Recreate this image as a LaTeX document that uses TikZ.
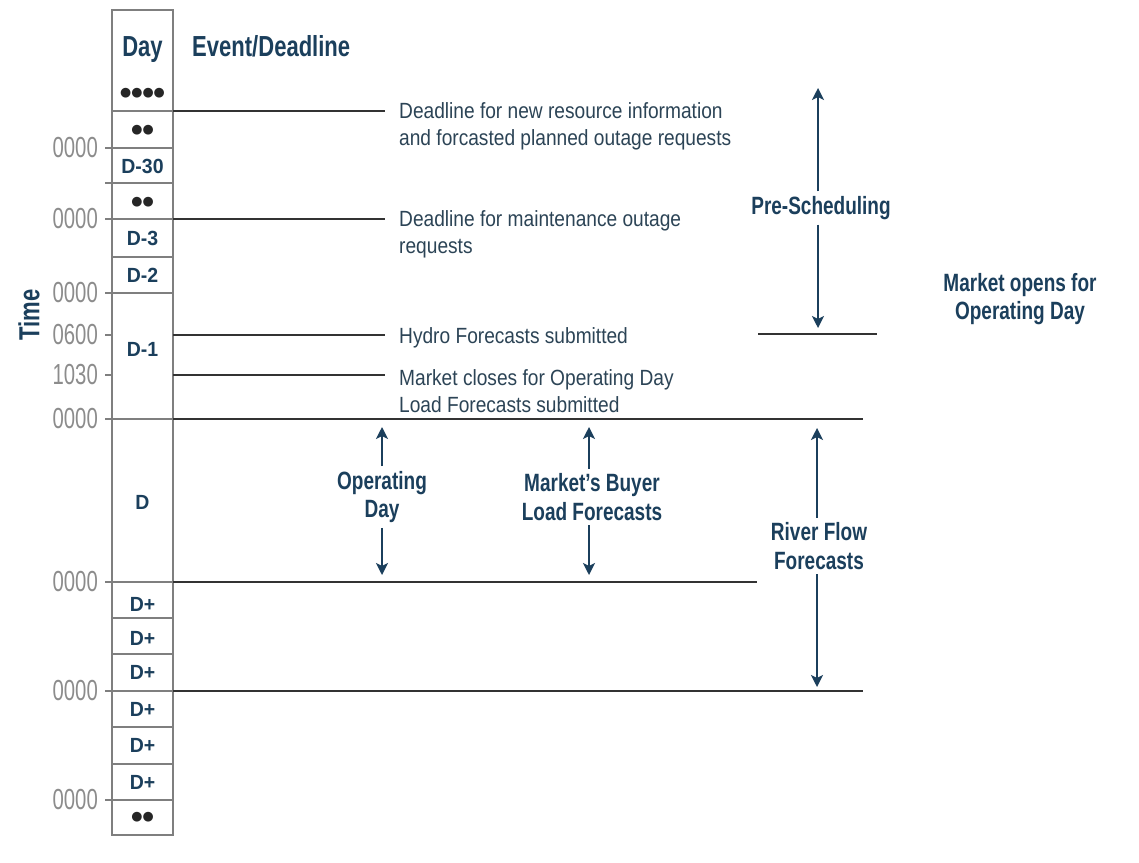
\documentclass[tikz,border=0pt]{standalone}
\usepackage{fontspec}
\usetikzlibrary{arrows.meta}
\newfontfamily\condb[FakeStretch=0.76]{Liberation Sans}
\newfontfamily\cellf[FakeStretch=0.95]{Liberation Sans}
\newfontfamily\bodyf[FakeStretch=0.87]{Liberation Sans}
\newfontfamily\timef[FakeStretch=0.7]{Liberation Sans}
\newfontfamily\dotf{DejaVu Sans}
\definecolor{navy}{HTML}{1B3F5C}
\definecolor{bodyc}{HTML}{2C4456}
\definecolor{colg}{HTML}{7F7F7F}
\definecolor{lineg}{HTML}{333333}
\definecolor{timec}{HTML}{8C8C8C}
\begin{document}
\begin{tikzpicture}[x=1pt,y=-1pt,
 title/.style={font=\condb\bfseries\fontsize{29}{30}\selectfont, text=navy, inner sep=0pt},
 cell/.style={font=\cellf\bfseries\fontsize{20.5}{22}\selectfont, text=navy, inner sep=0pt},
 dots/.style={font=\dotf\fontsize{12.8}{13}\selectfont, text=black!85, inner sep=0pt},
 ev/.style={font=\bodyf\fontsize{22}{27}\selectfont, text=bodyc, align=left, anchor=base west, inner sep=0pt},
 tm/.style={font=\timef\fontsize{29}{30}\selectfont, text=timec, anchor=east, inner sep=0pt},
 lbl/.style={font=\condb\bfseries\fontsize{25}{28.5}\selectfont, text=navy, align=center, inner sep=0pt, outer sep=5pt},
 colline/.style={colg, line width=2pt},
 evline/.style={lineg, line width=2pt},
 arr/.style={navy, line width=2pt, -{Stealth[length=12pt,width=12pt,inset=3pt]}},
]
\useasboundingbox (0,0) rectangle (1139,862);
\fill[white] (0,0) rectangle (1139,862);

% ---- day column
\draw[colline] (112,10) rectangle (173,835);
\foreach \y in {111,257,618,654,727,764} \draw[colline] (112,\y) -- (173,\y);
\foreach \y in {148,183,219,293,419,582,691,800} \draw[colline] (105,\y) -- (173,\y);
\foreach \y in {335,375} \draw[colline] (105,\y) -- (112,\y);

% ---- headers
\node[title, anchor=base] (hday) at (142.5,56) {Day};
\node[title, anchor=base west] (hev) at (192,56) {Event/Deadline};
\node[title, rotate=90] (htime) at (29,315) {Time};

% ---- cell labels
\node[dots] (c0) at (142.5,93) {●●●●};
\node[dots] (c1) at (142.5,130) {●●};
\node[cell] (c2) at (142.5,166.5) {D-30};
\node[dots] (c3) at (142.5,202) {●●};
\node[cell] (c4) at (142.5,238) {D-3};
\node[cell] (c5) at (142.5,275.5) {D-2};
\node[cell] (c6) at (142.5,349) {D-1};
\node[cell] (c7) at (142.5,502.5) {D};
\node[cell] (c8) at (142.5,604) {D+};
\node[cell] (c9) at (142.5,638) {D+};
\node[cell] (c10) at (142.5,672) {D+};
\node[cell] (c11) at (142.5,709) {D+};
\node[cell] (c12) at (142.5,745.5) {D+};
\node[cell] (c13) at (142.5,782) {D+};
\node[dots] (c14) at (142.5,817) {●●};

% ---- time labels
\node[tm] (t1) at (98,148) {0000};
\node[tm] (t2) at (98,219) {0000};
\node[tm] (t3) at (98,293) {0000};
\node[tm] (t4) at (98,335) {0600};
\node[tm] (t5) at (98,375) {1030};
\node[tm] (t6) at (98,419) {0000};
\node[tm] (t7) at (98,582) {0000};
\node[tm] (t8) at (98,691) {0000};
\node[tm] (t9) at (98,800) {0000};

% ---- events (base = baseline of last line)
\node[ev] (e1) at (399,145) {Deadline for new resource information\\and forcasted planned outage requests};
\node[ev] (e2) at (399,253.5) {Deadline for maintenance outage\\requests};
\node[ev] (e3) at (399,343) {Hydro Forecasts submitted};
\node[ev] (e4) at (399,412.5) {Market closes for Operating Day\\Load Forecasts submitted};

\coordinate (l1a) at (173,111); \coordinate (l1b) at (385,111);
\coordinate (l2a) at (173,219); \coordinate (l2b) at (385,219);
\coordinate (l3a) at (173,335); \coordinate (l3b) at (385,335);
\coordinate (l4a) at (173,375); \coordinate (l4b) at (385,375);
\coordinate (l5a) at (173,419); \coordinate (l5b) at (863,419);
\coordinate (l6a) at (173,582); \coordinate (l6b) at (757,582);
\coordinate (l7a) at (173,691); \coordinate (l7b) at (863,691);
\coordinate (l8a) at (758,334); \coordinate (l8b) at (877,334);
\foreach \i in {1,...,8} \draw[evline] (l\i a) -- (l\i b);

% ---- period labels and arrows
\node[lbl] (ps) at (821,208) {Pre-Scheduling};
\node[lbl] (mo) at (1020,299) {Market opens for\\Operating Day};
\node[lbl] (od) at (382,497) {Operating\\Day};
\node[lbl] (mb) at (592,497) {Market’s Buyer\\Load Forecasts};
\node[lbl] (rf) at (819,546) {River Flow\\Forecasts};

\coordinate (psT) at (818,88);  \coordinate (psB) at (818,328);
\coordinate (odT) at (382,427); \coordinate (odB) at (382,575);
\coordinate (mbT) at (589,427); \coordinate (mbB) at (589,575);
\coordinate (rfT) at (817,428); \coordinate (rfB) at (817,687);

\draw[arr] (ps.north -| psT) -- (psT);
\draw[arr] (ps.south -| psB) -- (psB);
\draw[arr] (od.north -| odT) -- (odT);
\draw[arr] (od.south -| odB) -- (odB);
\draw[arr] (mb.north -| mbT) -- (mbT);
\draw[arr] (mb.south -| mbB) -- (mbB);
\draw[arr] (rf.north -| rfT) -- (rfT);
\draw[arr] (rf.south -| rfB) -- (rfB);
\end{tikzpicture}
\end{document}
